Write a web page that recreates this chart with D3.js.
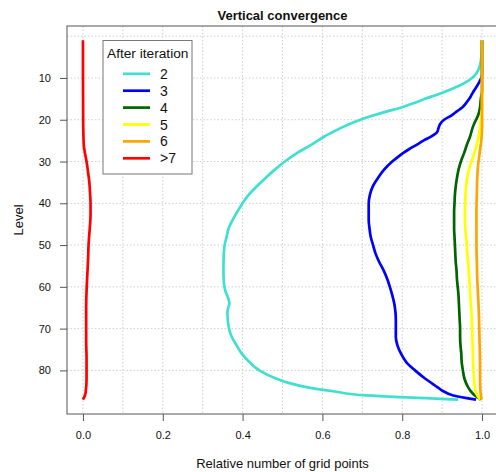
<!DOCTYPE html>
<html>
  <head>
    <title>Vertical convergence</title>
    <style>
      body { margin: 0; background: #fff; }
      text { font-family: "Liberation Sans", Arial, sans-serif; fill: #111; }
    </style>
  </head>
  <body>
    <div id="chart"></div>
  </body>
  <script src="https://d3js.org/d3.v7.min.js"></script>
  <script>

    // legend names and colours, one per iteration
    let iterNames = ["2", "3", "4", "5", "6", ">7"];
    let iterColors = ["#40E0D0", "#0000FF", "#006400", "#FFFF00", "#FFA500", "#FF0000"];

    // [level, relative number of grid points]
    let iter2 = [[1,1.0],[5,0.998],[7,0.995],[9,0.985],[10,0.975],[11,0.96],[12,0.94],[13,0.915],[14,0.887],
      [15,0.857],[16,0.83],[17,0.80],[18,0.762],[19,0.727],[20,0.695],[21,0.668],[22,0.645],[23,0.625],
      [24,0.605],[26,0.572],[28,0.536],[30,0.506],[32,0.48],[34,0.457],[36,0.435],[38,0.415],[40,0.40],
      [42,0.387],[44,0.375],[46,0.365],[48,0.36],[50,0.355],[52,0.353],[56,0.352],[59,0.353],[61,0.357],
      [63,0.365],[64,0.367],[65,0.364],[66,0.362],[68,0.363],[70,0.366],[72,0.373],[74,0.385],[76,0.398],
      [78,0.417],[80,0.442],[82,0.485],[83,0.515],[84,0.56],[85,0.627],[86,0.71],[87,0.94]];
    let iter3 = [[1,1.0],[9,1.0],[10,0.998],[11,0.993],[12,0.987],[13,0.98],[14,0.974],[15,0.968],[16,0.96],
      [17,0.951],[18,0.937],[19,0.923],[20,0.905],[21,0.895],[22,0.891],[23,0.887],[24,0.873],[25,0.853],
      [26,0.836],[27,0.818],[28,0.802],[29,0.788],[30,0.775],[32,0.754],[34,0.739],[36,0.726],[38,0.719],
      [40,0.716],[42,0.716],[44,0.716],[46,0.718],[48,0.721],[50,0.727],[52,0.733],[54,0.742],[56,0.753],
      [58,0.762],[60,0.769],[62,0.775],[64,0.78],[66,0.783],[68,0.784],[70,0.784],[72,0.784],[74,0.788],
      [76,0.797],[78,0.81],[80,0.832],[82,0.858],[84,0.888],[85,0.903],[86,0.928],[87,0.985]];
    let iter4 = [[1,1.0],[13,1.0],[15,0.997],[17,0.995],[18,0.993],[19,0.99],[20,0.985],[21,0.98],[22,0.976],
      [24,0.97],[26,0.962],[28,0.955],[30,0.947],[32,0.941],[34,0.937],[36,0.934],[38,0.932],[40,0.931],
      [42,0.93],[44,0.93],[46,0.93],[48,0.931],[50,0.932],[52,0.933],[54,0.934],[56,0.936],[58,0.937],
      [60,0.939],[62,0.941],[64,0.942],[66,0.943],[68,0.944],[70,0.945],[72,0.945],[74,0.946],[76,0.948],
      [78,0.949],[80,0.952],[82,0.956],[84,0.965],[85,0.972],[86,0.982],[87,0.997]];
    let iter5 = [[1,1.0],[17,1.0],[19,0.998],[21,0.996],[23,0.993],[25,0.989],[27,0.984],[29,0.977],[31,0.97],
      [33,0.965],[35,0.961],[37,0.959],[40,0.958],[43,0.957],[46,0.958],[49,0.961],[52,0.963],[55,0.966],
      [58,0.968],[61,0.97],[64,0.972],[67,0.974],[70,0.975],[73,0.976],[76,0.977],[79,0.978],[82,0.98],
      [84,0.982],[85,0.984],[86,0.988],[87,0.995]];
    let iter6 = [[1,1.0],[22,1.0],[25,0.998],[28,0.994],[31,0.99],[34,0.988],[38,0.987],[42,0.986],[46,0.986],
      [50,0.986],[54,0.987],[58,0.988],[62,0.99],[66,0.992],[70,0.993],[74,0.994],[78,0.995],[82,0.995],
      [85,0.996],[87,0.999]];
    let iter7 = [[1,0.0],[10,0.0],[20,0.0005],[26,0.002],[28,0.005],[30,0.009],[32,0.012],[35,0.016],[38,0.018],
      [40,0.019],[43,0.019],[46,0.017],[50,0.014],[53,0.013],[57,0.011],[61,0.009],[65,0.008],[69,0.008],
      [73,0.008],[77,0.009],[82,0.009],[85,0.007],[86,0.005],[87,0.0]];

    let xTicks = [0, 0.2, 0.4, 0.6, 0.8, 1.0];
    let xGrid = [0, 0.1, 0.2, 0.3, 0.4, 0.5, 0.6, 0.7, 0.8, 0.9, 1.0];
    let yTicks = [10, 20, 30, 40, 50, 60, 70, 80];
    let yGrid = [0, 10, 20, 30, 40, 50, 60, 70, 80];

    let series = [iter2, iter3, iter4, iter5, iter6, iter7];

    // plot box, R style (4% padding on each side)
    let W = 496, H = 472;
    let box = {left: 67, top: 26, right: 498, bottom: 414};

    let xScale = d3.scaleLinear().domain([-0.04, 1.04]).range([box.left, box.right]);
    let yScale = d3.scaleLinear().domain([-2.44, 90.44]).range([box.top, box.bottom]);

    let svg = d3.select("#chart").append("svg")
      .attr("width", W)
      .attr("height", H);

    // grid
    svg.append("g").selectAll("line")
      .data(xGrid)
      .enter().append("line")
      .attr("x1", d => xScale(d)).attr("x2", d => xScale(d))
      .attr("y1", box.top).attr("y2", box.bottom)
      .attr("stroke", "#cfcfcf").attr("stroke-dasharray", "1.5,2");
    svg.append("g").selectAll("line")
      .data(yGrid)
      .enter().append("line")
      .attr("y1", d => yScale(d)).attr("y2", d => yScale(d))
      .attr("x1", box.left).attr("x2", box.right)
      .attr("stroke", "#cfcfcf").attr("stroke-dasharray", "1.5,2");

    // axes
    let xAxis = svg.append("g")
      .attr("transform", "translate(0," + box.bottom + ")")
      .call(d3.axisBottom(xScale).tickValues(xTicks).tickFormat(d3.format(".1f")).tickSizeInner(7).tickSizeOuter(0).tickPadding(10));
    let yAxis = svg.append("g")
      .attr("transform", "translate(" + box.left + ",0)")
      .call(d3.axisLeft(yScale).tickValues(yTicks).tickSizeInner(7).tickSizeOuter(0).tickPadding(9));
    [xAxis, yAxis].forEach(function(a) {
      a.select(".domain").remove();
      a.selectAll(".tick line").attr("stroke", "#555");
      a.selectAll("text").attr("font-size", 11).attr("font-family", null).style("fill", "#111");
    });

    // box
    svg.append("rect")
      .attr("x", box.left).attr("y", box.top)
      .attr("width", box.right - box.left).attr("height", box.bottom - box.top)
      .attr("fill", "none").attr("stroke", "#555").attr("stroke-width", 1);

    // lines
    let line = d3.line()
      .x(d => xScale(d[1]))
      .y(d => yScale(d[0]))
      .curve(d3.curveMonotoneY);

    svg.append("g").selectAll("path")
      .data(series)
      .enter().append("path")
      .attr("d", line)
      .attr("fill", "none")
      .attr("stroke", (d, i) => iterColors[i])
      .attr("stroke-width", 2.7)
      .attr("stroke-linejoin", "round");

    // legend
    let lg = svg.append("g");
    lg.append("rect")
      .attr("x", 103).attr("y", 40.5).attr("width", 89).attr("height", 133.5)
      .attr("fill", "#fff").attr("stroke", "#777");
    lg.append("text")
      .attr("x", 107).attr("y", 57.5)
      .attr("font-size", 13.7)
      .text("After iteration");
    let rows = lg.selectAll(".row")
      .data(iterNames)
      .enter().append("g")
      .attr("class", "row")
      .attr("transform", (d, i) => "translate(0," + (73.8 + i * 16.9) + ")");
    rows.append("line")
      .attr("x1", 123).attr("x2", 150)
      .attr("stroke", (d, i) => iterColors[i])
      .attr("stroke-width", 2.7);
    rows.append("text")
      .attr("x", 160).attr("y", 5)
      .attr("font-size", 14)
      .text(d => d);

    // titles
    svg.append("text")
      .attr("x", (box.left + box.right) / 2).attr("y", 20)
      .attr("text-anchor", "middle")
      .attr("font-size", 13).attr("font-weight", "bold")
      .text("Vertical convergence");
    svg.append("text")
      .attr("x", (box.left + box.right) / 2).attr("y", 468)
      .attr("text-anchor", "middle")
      .attr("font-size", 13)
      .text("Relative number of grid points");
    svg.append("text")
      .attr("transform", "translate(23," + (box.top + box.bottom) / 2 + ") rotate(-90)")
      .attr("text-anchor", "middle")
      .attr("font-size", 13)
      .text("Level");

  </script>
</html>
